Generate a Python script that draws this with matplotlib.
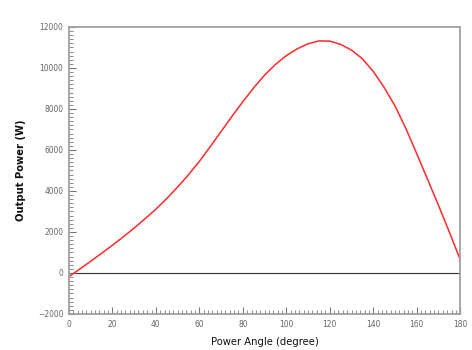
import matplotlib
matplotlib.use('Agg')
import matplotlib.pyplot as plt
from matplotlib.ticker import MultipleLocator

#font: narrow sans like the original
plt.rcParams['font.family'] = ['DejaVu Sans']
plt.rcParams['font.stretch'] = 'condensed'

#data
angle = [0, 5, 10, 15, 20, 25, 30, 35, 40, 45, 50, 55, 60, 65, 70, 75, 80, 85, 90,
         95, 100, 105, 110, 115, 120, 125, 130, 135, 140, 145, 150, 155, 160, 165,
         170, 175, 180]
power = [-180, 190, 570, 955, 1350, 1760, 2190, 2640, 3110, 3630, 4190, 4790, 5440,
         6160, 6900, 7640, 8350, 9030, 9650, 10170, 10600, 10930, 11180, 11320,
         11310, 11150, 10870, 10450, 9830, 9050, 8150, 7050, 5820, 4560, 3300,
         2000, 650]

fig = plt.figure(figsize=(4.72, 3.5), dpi=100)
ax = fig.add_axes([0.146, 0.103, 0.829, 0.82])

ax.axhline(0, color='#333333', lw=0.8, zorder=1)
ax.plot(angle, power, color='#ff2a2a', lw=1.1, zorder=2)

ax.set_xlim(0, 180)
ax.set_ylim(-2000, 12000)
ax.xaxis.set_major_locator(MultipleLocator(20))
ax.xaxis.set_minor_locator(MultipleLocator(2))
ax.yaxis.set_major_locator(MultipleLocator(2000))
ax.yaxis.set_minor_locator(MultipleLocator(200))

ax.tick_params(which='both', direction='in', color='#777777', labelcolor='#666666',
               labelsize=6, top=False, right=False)
ax.tick_params(which='major', length=5, width=0.8, pad=4)
ax.tick_params(which='minor', length=2.7, width=0.6)

for s in ax.spines.values():
    s.set_color('#a0a0a0')
    s.set_linewidth(1.3)

ax.set_xlabel('Power Angle (degree)', fontsize=8, color='#111111')
ax.set_ylabel('Output Power (W)', fontsize=8, color='#111111', fontweight='bold')
ax.xaxis.set_label_coords(0.5, -0.08)
ax.yaxis.set_label_coords(-0.11, 0.5)

plt.savefig('out.png', dpi=100)
